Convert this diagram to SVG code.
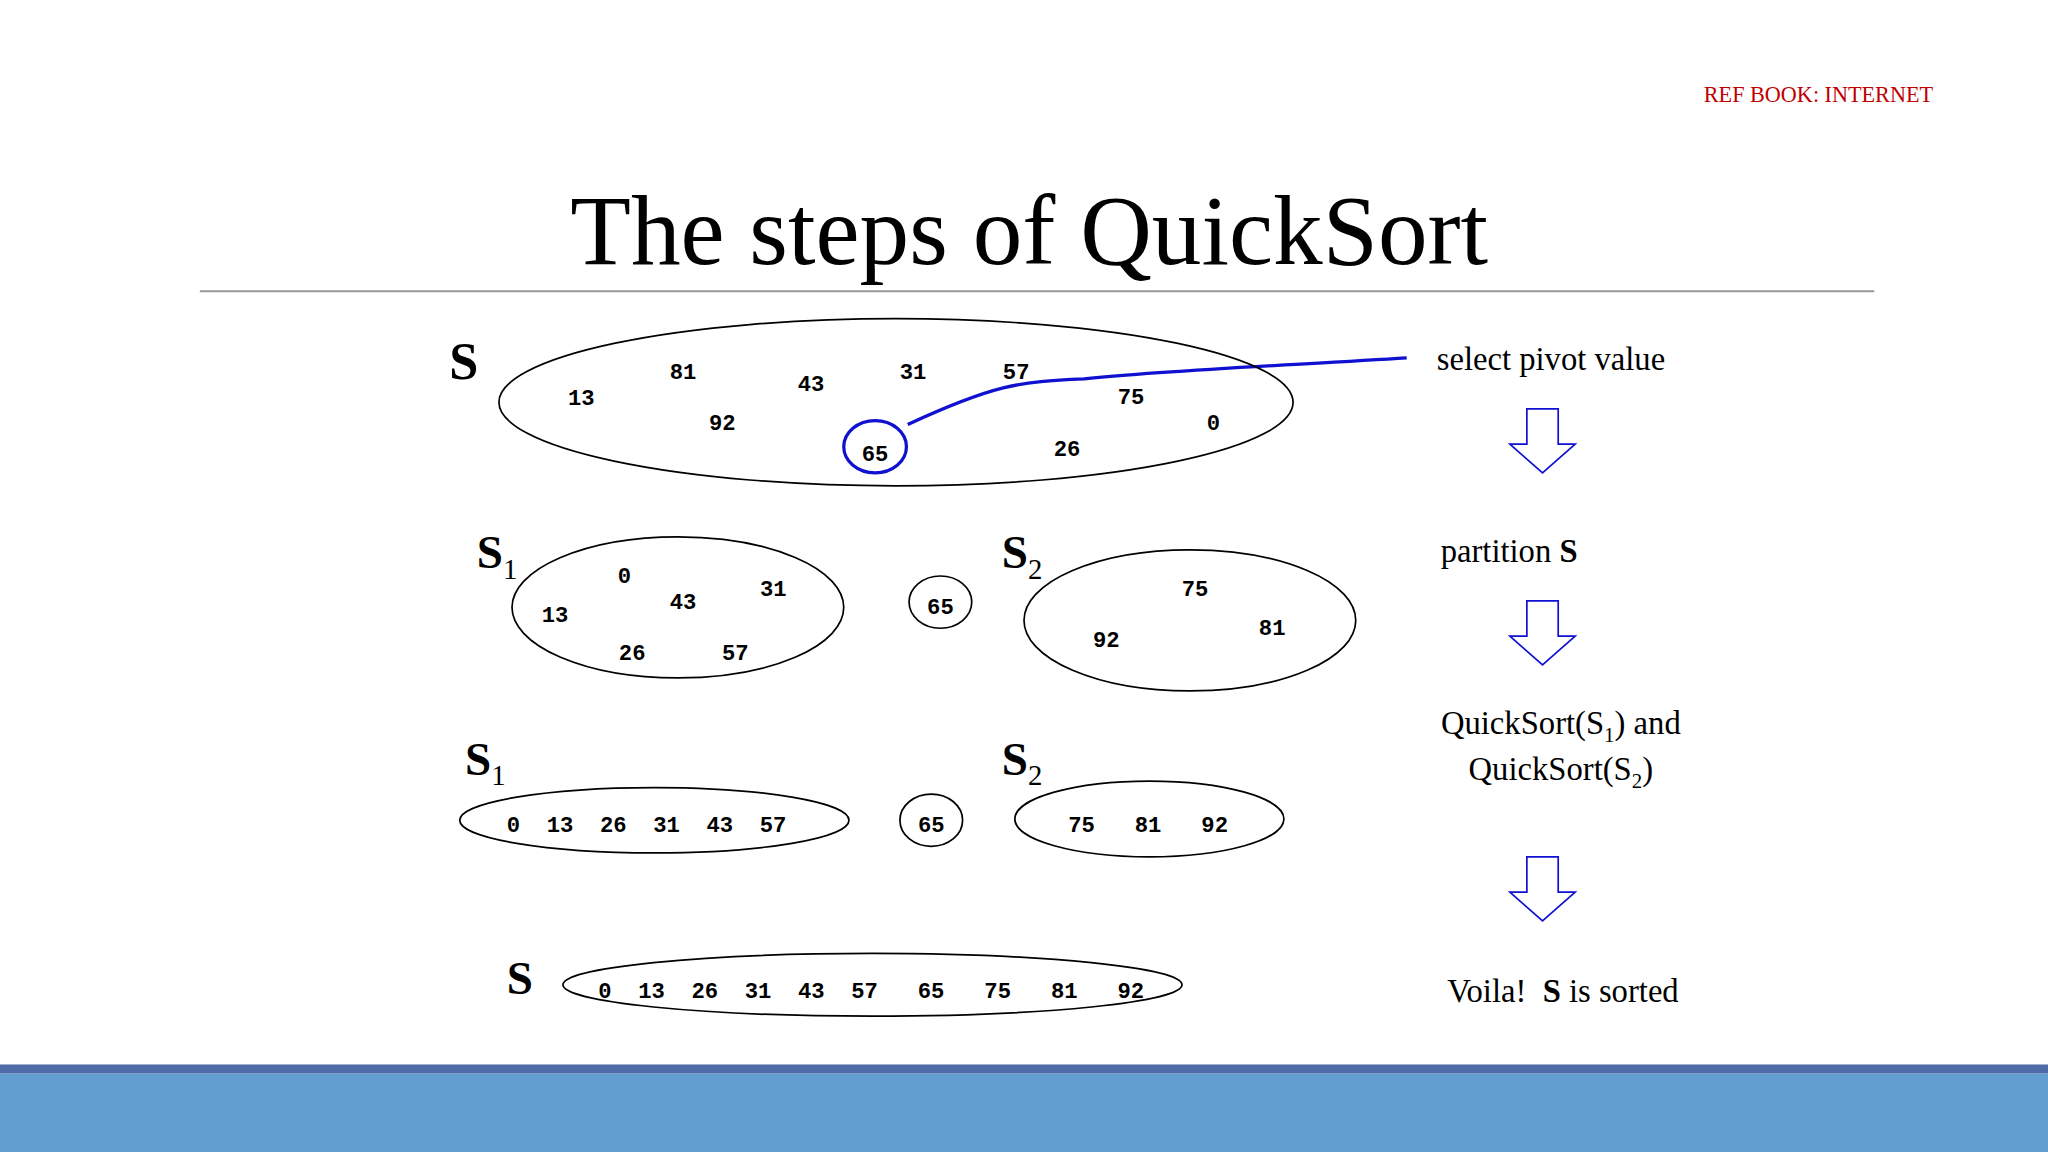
<svg xmlns="http://www.w3.org/2000/svg" width="2048" height="1152" viewBox="0 0 2048 1152">
<style>
.n{font-family:"Liberation Mono",monospace;font-weight:bold;font-size:17px;text-anchor:middle;fill:#000}
.e{fill:none;stroke:#000;stroke-width:1.3}
.t{font-family:"Liberation Serif",serif;fill:#000}
.b{font-weight:bold}
.ar{fill:#fff;stroke:#1010d0;stroke-width:1.3}
</style>
<defs>
<path id="arrow" d="M-12,0 H12 V27 H25 L0,49 L-25,27 H-12 Z"/>
</defs>
<rect width="2048" height="1152" fill="#fff"/>
<g transform="scale(1.30612)">
<rect x="0" y="815" width="1568" height="7" fill="#4f6aa8"/>
<rect x="0" y="822" width="1568" height="60" fill="#629fd0"/>
<text class="t" x="1480" y="78" font-size="17" fill="#c00000" style="fill:#c00000" text-anchor="end">REF BOOK: INTERNET</text>
<text class="t" x="788" y="202" font-size="76" text-anchor="middle">The steps of QuickSort</text>
<line x1="153" y1="223" x2="1435" y2="223" stroke="#999" stroke-width="1.5"/>

<g id="connectors">
<path d="M695,325 C760,295 780,292 830,290 C900,283 1000,279 1077,274" fill="none" stroke="#1010d0" stroke-width="2.5"/>
</g>

<g id="S-set">
<text class="t b" x="344" y="290" font-size="40">S</text>
<ellipse class="e" cx="686" cy="308" rx="304" ry="64"/>
<text class="n" x="445" y="310">13</text>
<text class="n" x="523" y="290">81</text>
<text class="n" x="553" y="329">92</text>
<text class="n" x="621" y="299">43</text>
<text class="n" x="699" y="290">31</text>
<text class="n" x="778" y="290">57</text>
<text class="n" x="866" y="309">75</text>
<text class="n" x="929" y="329">0</text>
<text class="n" x="817" y="349">26</text>
<ellipse cx="670" cy="342" rx="24" ry="20" fill="none" stroke="#1010d0" stroke-width="2.5"/>
<text class="n" x="670" y="353">65</text>
</g>

<g id="S1-partition">
<text class="t b" x="365" y="435" font-size="36">S<tspan font-size="22" font-weight="normal" dy="8">1</tspan></text>
<ellipse class="e" cx="519" cy="465" rx="127" ry="54"/>
<text class="n" x="478" y="446">0</text>
<text class="n" x="523" y="466">43</text>
<text class="n" x="592" y="456">31</text>
<text class="n" x="425" y="476">13</text>
<text class="n" x="484" y="505">26</text>
<text class="n" x="563" y="505">57</text>
</g>
<g id="pivot1">
<ellipse class="e" cx="720" cy="461" rx="24" ry="20"/>
<text class="n" x="720" y="470">65</text>
</g>
<g id="S2-partition">
<text class="t b" x="767" y="435" font-size="36">S<tspan font-size="22" font-weight="normal" dy="8">2</tspan></text>
<ellipse class="e" cx="911" cy="475" rx="127" ry="54"/>
<text class="n" x="915" y="456">75</text>
<text class="n" x="974" y="486">81</text>
<text class="n" x="847" y="495">92</text>
</g>

<g id="S1-sorted">
<text class="t b" x="356" y="593" font-size="36">S<tspan font-size="22" font-weight="normal" dy="8">1</tspan></text>
<ellipse class="e" cx="501" cy="628" rx="149" ry="25"/>
<text class="n" x="495" y="637" xml:space="preserve">0  13  26  31  43  57</text>
</g>
<g id="pivot2">
<ellipse class="e" cx="713" cy="628" rx="24" ry="20"/>
<text class="n" x="713" y="637">65</text>
</g>
<g id="S2-sorted">
<text class="t b" x="767" y="593" font-size="36">S<tspan font-size="22" font-weight="normal" dy="8">2</tspan></text>
<ellipse class="e" cx="880" cy="627" rx="103" ry="29"/>
<text class="n" x="879" y="637" xml:space="preserve">75   81   92</text>
</g>

<g id="S-sorted">
<text class="t b" x="388" y="761" font-size="36">S</text>
<ellipse class="e" cx="668" cy="754" rx="237" ry="24"/>
<text class="n" x="667" y="764" xml:space="preserve">0  13  26  31  43  57   65   75   81   92</text>
</g>

<g id="steps">
<text class="t" x="1100" y="283" font-size="25">select pivot value</text>
<use href="#arrow" x="1181" y="313" class="ar"/>
<text class="t" x="1103" y="430" font-size="25">partition <tspan font-weight="bold">S</tspan></text>
<use href="#arrow" x="1181" y="460" class="ar"/>
<text class="t" x="1195" y="562" font-size="25" text-anchor="middle">QuickSort(S<tspan font-size="16" dy="6">1</tspan><tspan dy="-6">) and</tspan></text>
<text class="t" x="1195" y="597" font-size="25" text-anchor="middle">QuickSort(S<tspan font-size="16" dy="6">2</tspan><tspan dy="-6">)</tspan></text>
<use href="#arrow" x="1181" y="656" class="ar"/>
<text class="t" x="1108" y="767" font-size="25" xml:space="preserve">Voila!  <tspan font-weight="bold">S</tspan> is sorted</text>
</g>
</g>
</svg>
